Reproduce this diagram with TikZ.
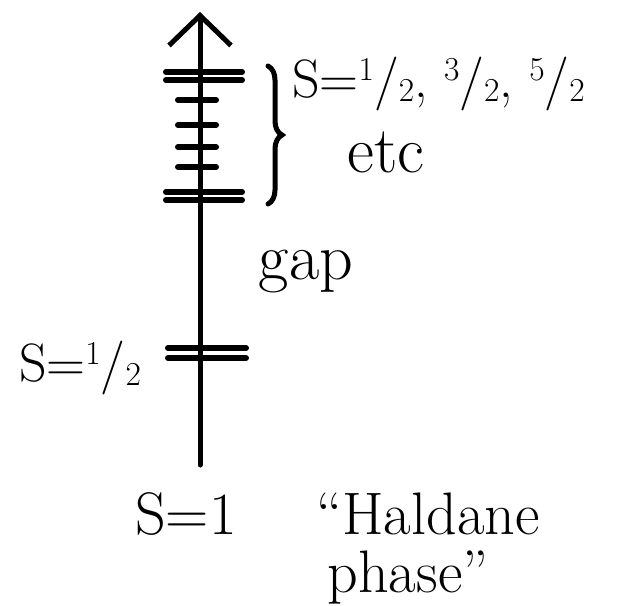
\documentclass[tikz,border=0pt]{standalone}
\usepackage{amsmath,amssymb}
\usepackage{xcolor}
\usepackage{tikz}
\usetikzlibrary{arrows.meta, positioning, decorations.pathreplacing}

\newcommand{\slashfrac}[2]{\raisebox{0.32em}{\scalebox{0.62}{#1}}/\raisebox{-0.08em}{\scalebox{0.62}{#2}}}

\begin{document}
\begin{tikzpicture}[
    x=1pt, y=-1pt,
    axis/.style={line width=5pt, line cap=round, -{Straight Barb[length=30pt, width=62pt, line width=5pt]}},
    level/.style={line width=6pt, line cap=round},
    brace/.style={line width=5pt, line cap=round, decorate, decoration={brace, amplitude=14pt}},
    lbl/.style={inner sep=0pt, font=\fontsize{66}{72}\selectfont},
    smalllbl/.style={inner sep=0pt, font=\fontsize{54}{60}\selectfont},
    footlbl/.style={inner sep=0pt, anchor=base, font=\fontsize{60}{66}\selectfont},
]
\useasboundingbox (0,0) rectangle (629,605);

\coordinate (base) at (200,465);
\coordinate (tip) at (200,12);
\draw[axis] (base) -- (tip);

\foreach \y in {72,80,192,200} \draw[level] (166,\y) -- (242,\y);
\foreach \y in {100,125,147,167} \draw[level] (178,\y) -- (216,\y);
\foreach \y in {348,358} \draw[level] (168,\y) -- (246,\y);

\coordinate (btop) at (268,66);
\coordinate (bbot) at (268,204);
\draw[brace] (btop) -- (bbot);

\node[smalllbl, anchor=west] (series) at (292,84) {S=\slashfrac{1}{2}, \slashfrac{3}{2}, \slashfrac{5}{2}};
\node[lbl] (etc) at (386,152) {etc};
\node[lbl] (gaplbl) at (306,272) {gap};
\node[smalllbl] (half) at (80,368) {S=\slashfrac{1}{2}};
\node[footlbl] (spin) at (186,534) {S=1};
\node[footlbl] (haldane) at (428,534) {``Haldane};
\node[footlbl] (phase) at (408,592) {phase''};
\end{tikzpicture}
\end{document}
